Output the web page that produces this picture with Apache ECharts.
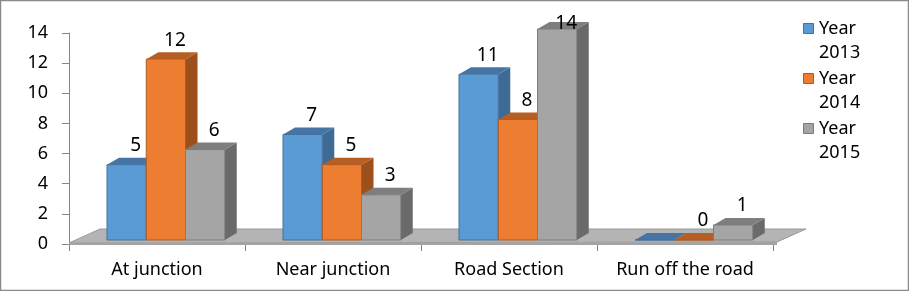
<!DOCTYPE html>
<html>
<head>
<meta charset="utf-8">
<script src="https://cdn.jsdelivr.net/npm/echarts@6/dist/echarts.min.js"></script>
<style>
  html, body { margin: 0; padding: 0; background: #fff; }
  #chart { width: 909px; height: 291px; }
</style>
</head>
<body>
<div id="chart"></div>
<script>
// data
const categories = ['At junction', 'Near junction', 'Road Section', 'Run off the road']
const years = ['Year 2013', 'Year 2014', 'Year 2015']
const year2013 = [5, 7, 11, 0]
const year2014 = [12, 5, 8, 0]
const year2015 = [6, 3, 14, 1]
const yTicks = [0, 2, 4, 6, 8, 10, 12, 14]

// colours: front, top, side, edge
const shades = [
  { front: '#5B9BD5', top: '#4675A5', side: '#3E6B95', edge: '#41719C' },
  { front: '#ED7D31', top: '#B65E24', side: '#9E501C', edge: '#AE5A21' },
  { front: '#A5A5A5', top: '#7E7E7E', side: '#6A6A6A', edge: '#7C7C7C' },
]

const DX = 12, DY = -7

function makeBar(sIdx) {
  return function (params, api) {
    const ci = api.value(0)
    const v = api.value(1)
    const base = api.coord([ci, 0])
    const topP = api.coord([ci, v])
    const band = api.size([1, 0])[0]
    const w = band * 0.223
    const x0 = base[0] - band * 0.284 + sIdx * w
    const yb = base[1] - 4
    const yt = topP[1] - 4
    const c = shades[sIdx]
    const kids = [
      {
        type: 'polygon',
        shape: { points: [[x0 + w, yb], [x0 + w + DX, yb + DY], [x0 + w + DX, yt + DY], [x0 + w, yt]] },
        style: { fill: c.side },
      },
      {
        type: 'polygon',
        shape: { points: [[x0, yt], [x0 + DX, yt + DY], [x0 + w + DX, yt + DY], [x0 + w, yt]] },
        style: { fill: c.top },
      },
      {
        type: 'rect',
        shape: { x: x0, y: yt, width: w, height: yb - yt },
        style: { fill: c.front, stroke: c.edge, lineWidth: 1 },
      },
    ]
    // overlapping zero labels: keep one
    const hideLabel = v === 0 && sIdx === 0
    if (!hideLabel) {
      kids.push({
        type: 'text',
        z2: 100,
        style: {
          x: x0 + w / 2 + 9,
          y: Math.max(yt - 19, 24),
          text: String(v),
          fill: '#000',
          font: '19px "Noto Sans"',
          align: 'center',
          verticalAlign: 'middle',
        },
      })
    }
    return { type: 'group', children: kids }
  }
}

function renderFloor(params, api) {
  const cs = params.coordSys
  const gx = cs.x, gx2 = cs.x + cs.width, y0 = cs.y + cs.height
  return {
    type: 'group',
    children: [
      {
        type: 'polygon',
        shape: { points: [[gx, y0 - 1], [gx + 31, y0 - 15], [gx2 + 33, y0 - 15], [gx2 + 4, y0 - 2]] },
        style: { fill: '#B4B4B4', stroke: '#999', lineWidth: 1 },
      },
      {
        type: 'polygon',
        shape: { points: [[gx, y0 - 1], [gx2 + 4, y0 - 2], [gx2 + 4, y0 + 1], [gx, y0 + 1]] },
        style: { fill: '#A3A3A3' },
      },
    ],
  }
}

// legend drawn as graphic so the swatch sits beside the first line
function legendItems() {
  const out = []
  years.forEach((name, i) => {
    const parts = name.split(' ')
    const top = 23 + i * 50
    out.push({
      type: 'rect',
      shape: { x: 803.5, y: top + 0.5, width: 10, height: 10 },
      style: { fill: shades[i].front, stroke: shades[i].edge, lineWidth: 1 },
    })
    out.push({
      type: 'text',
      style: {
        x: 819,
        y: top + 6,
        text: parts[0],
        fill: '#000',
        font: '18px "Noto Sans"',
        verticalAlign: 'middle',
      },
    })
    out.push({
      type: 'text',
      style: {
        x: 819,
        y: top + 30,
        text: parts[1],
        fill: '#000',
        font: '18px "Noto Sans"',
        verticalAlign: 'middle',
      },
    })
  })
  return out
}

const seriesData = [year2013, year2014, year2015]
const myChart = echarts.init(document.getElementById('chart'))

myChart.setOption({
  animation: false,
  textStyle: { fontFamily: 'Noto Sans' },
  graphic: [
    {
      type: 'rect',
      shape: { x: 0.5, y: 0.5, width: 908, height: 290 },
      style: { fill: null, stroke: '#8A8A8A', lineWidth: 1.5 },
      z: 100,
    },
    {
      type: 'group',
      children: legendItems(),
    },
  ],
  grid: {
    left: 69,
    right: 136,
    top: 33,
    bottom: 47,
  },
  xAxis: {
    type: 'category',
    data: categories,
    axisLine: { lineStyle: { color: '#868686' } },
    axisTick: { show: true, length: 7, lineStyle: { color: '#868686' } },
    axisLabel: { fontSize: 18, color: '#000', margin: 17, interval: 0 },
  },
  yAxis: {
    type: 'value',
    min: 0,
    max: 14,
    interval: 2,
    splitLine: { show: false },
    axisLine: { show: true, lineStyle: { color: '#868686' } },
    axisTick: { show: true, length: 7, lineStyle: { color: '#868686' } },
    axisLabel: {
      fontSize: 18,
      color: '#000',
      margin: 21,
      formatter: v => (yTicks.includes(v) ? String(v) : ''),
    },
  },
  series: [
    {
      type: 'custom',
      name: 'floor',
      z: 1,
      silent: true,
      renderItem: renderFloor,
      data: [[0, 0]],
    },
    ...years.map((name, i) => ({
      type: 'custom',
      name: name,
      z: 2 + i,
      itemStyle: { color: shades[i].front },
      renderItem: makeBar(i),
      encode: { x: 0, y: 1 },
      data: seriesData[i].map((v, k) => [k, v]),
    })),
  ],
})
</script>
</body>
</html>
